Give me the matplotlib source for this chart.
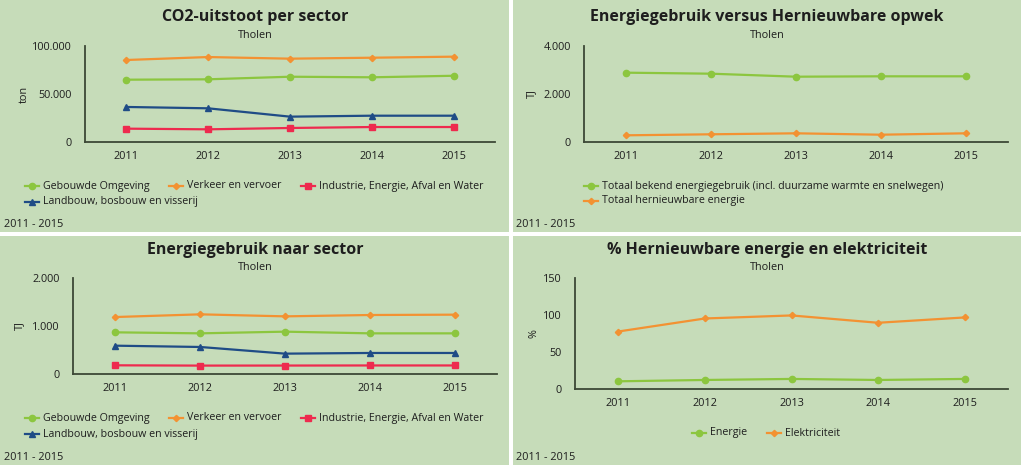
import matplotlib.pyplot as plt
from matplotlib.lines import Line2D
from matplotlib.patches import Rectangle
from matplotlib.ticker import FuncFormatter

plt.rcParams['font.family'] = ['Open Sans', 'DejaVu Sans']

jaren = ['2011', '2012', '2013', '2014', '2015']

# CO2-uitstoot per sector (ton)
co2_gebouwd = [64900, 65300, 68000, 67400, 69000]
co2_verkeer = [85400, 88500, 86800, 87800, 88900]
co2_industrie = [13900, 13200, 14600, 15600, 15600]
co2_landbouw = [36500, 35100, 26400, 27400, 27400]

# Energiegebruik versus hernieuwbare opwek (TJ)
totaal_energie = [2888, 2846, 2721, 2737, 2737]
totaal_hernieuwbaar = [279, 321, 362, 304, 362]

# Energiegebruik naar sector (TJ)
tj_gebouwd = [868, 847, 882, 847, 847]
tj_verkeer = [1187, 1243, 1201, 1229, 1236]
tj_industrie = [181, 175, 176, 178, 178]
tj_landbouw = [590, 563, 424, 438, 438]

# % hernieuwbare energie en elektriciteit
pct_energie = [10.4, 12.2, 13.6, 12.2, 13.6]
pct_elektriciteit = [77.7, 95.3, 99.4, 89.5, 96.7]

GROEN = '#8cc63f'
ORANJE = '#f39232'
ROOD = '#ee2a4e'
BLAUW = '#1f4c86'
ACHTERGROND = '#c6dcb9'
AS = '#3c4836'
TEKST = '#1e1e1e'

stijl = {
    'groen': dict(color=GROEN, marker='o', markersize=4.5),
    'oranje': dict(color=ORANJE, marker='D', markersize=3.2),
    'rood': dict(color=ROOD, marker='s', markersize=5),
    'blauw': dict(color=BLAUW, marker='^', markersize=5),
}

W, H = 1023, 467
fig = plt.figure(figsize=(W / 100, H / 100), dpi=100)
fig.patch.set_facecolor('white')


def fx(x):
    return x / W


def fy(y):
    return 1 - y / H


# achtergrondvlakken
for (x0, y0, x1, y1) in [(0, 0, 509, 232), (513, 0, 1021, 232),
                         (0, 236, 509, 465), (513, 236, 1021, 465)]:
    fig.patches.append(Rectangle((fx(x0), fy(y1)), fx(x1 - x0), (y1 - y0) / H,
                                 transform=fig.transFigure, facecolor=ACHTERGROND,
                                 edgecolor='none', zorder=-5))


def punt(v, pos):
    return f'{int(round(v)):,}'.replace(',', '.')


def maak_as(left, top, right, bottom, ymax, yticks, ylabel, ylabel_x):
    ax = fig.add_axes([fx(left), fy(bottom), fx(right - left), (bottom - top) / H])
    ax.set_facecolor('none')
    ax.set_zorder(2)
    ax.set_xlim(-0.5, 4.5)
    ax.set_ylim(0, ymax)
    ax.set_yticks(yticks)
    ax.yaxis.set_major_formatter(FuncFormatter(punt))
    for s in ['top', 'right']:
        ax.spines[s].set_visible(False)
    for s in ['left', 'bottom']:
        ax.spines[s].set_color(AS)
        ax.spines[s].set_linewidth(1.3)
    ax.tick_params(axis='both', length=0, labelsize=7.8, labelcolor=TEKST)
    ax.tick_params(axis='y', pad=9.5)
    ax.tick_params(axis='x', pad=6.5)
    fig.text(fx(ylabel_x), fy((top + bottom) / 2), ylabel, rotation=90,
             ha='center', va='center', fontsize=7.8, color=TEKST)
    return ax


def titels(cx, ty, sy, titel):
    fig.text(fx(cx), fy(ty), titel, ha='center', va='center', fontsize=11.5,
             fontweight='bold', color=TEKST)
    fig.text(fx(cx), fy(sy), 'Tholen', ha='center', va='center', fontsize=7.8,
             color=TEKST)


def legenda_item(x, y, label, s):
    fig.add_artist(Line2D([fx(x - 7), fx(x + 7)], [fy(y), fy(y)],
                          transform=fig.transFigure, color=s['color'], lw=1.6))
    fig.add_artist(Line2D([fx(x)], [fy(y)], transform=fig.transFigure,
                          color=s['color'], marker=s['marker'],
                          markersize=s['markersize']))
    fig.text(fx(x + 11), fy(y), label, ha='left', va='center', fontsize=7.65,
             color=TEKST)


def teken(ax, reeksen):
    for waarden, s in reeksen:
        ax.plot(jaren, waarden, lw=1.6, **s)


# paneel 1
ax1 = maak_as(85, 46, 495, 142, 100000, [0, 50000, 100000], 'ton', 24)
teken(ax1, [(co2_gebouwd, stijl['groen']), (co2_verkeer, stijl['oranje']),
            (co2_industrie, stijl['rood']), (co2_landbouw, stijl['blauw'])])
titels(255, 17, 35, 'CO2-uitstoot per sector')
legenda_item(32, 186, 'Gebouwde Omgeving', stijl['groen'])
legenda_item(176, 186, 'Verkeer en vervoer', stijl['oranje'])
legenda_item(308, 186, 'Industrie, Energie, Afval en Water', stijl['rood'])
legenda_item(32, 202, 'Landbouw, bosbouw en visserij', stijl['blauw'])
fig.text(fx(4), fy(224), '2011 - 2015', ha='left', va='center', fontsize=7.8, color=TEKST)

# paneel 2
ax2 = maak_as(584, 46, 1008, 142, 4000, [0, 2000, 4000], 'TJ', 532)
teken(ax2, [(totaal_energie, stijl['groen']), (totaal_hernieuwbaar, stijl['oranje'])])
titels(767, 17, 35, 'Energiegebruik versus Hernieuwbare opwek')
legenda_item(591, 186, 'Totaal bekend energiegebruik (incl. duurzame warmte en snelwegen)', stijl['groen'])
legenda_item(591, 201, 'Totaal hernieuwbare energie', stijl['oranje'])
fig.text(fx(516), fy(224), '2011 - 2015', ha='left', va='center', fontsize=7.8, color=TEKST)

# paneel 3
ax3 = maak_as(73, 278, 497, 374, 2000, [0, 1000, 2000], 'TJ', 20)
teken(ax3, [(tj_gebouwd, stijl['groen']), (tj_verkeer, stijl['oranje']),
            (tj_industrie, stijl['rood']), (tj_landbouw, stijl['blauw'])])
titels(255, 250, 268, 'Energiegebruik naar sector')
legenda_item(32, 418, 'Gebouwde Omgeving', stijl['groen'])
legenda_item(176, 418, 'Verkeer en vervoer', stijl['oranje'])
legenda_item(308, 418, 'Industrie, Energie, Afval en Water', stijl['rood'])
legenda_item(32, 434, 'Landbouw, bosbouw en visserij', stijl['blauw'])
fig.text(fx(4), fy(457), '2011 - 2015', ha='left', va='center', fontsize=7.8, color=TEKST)

# paneel 4
ax4 = maak_as(575, 278, 1008, 389, 150, [0, 50, 100, 150], '%', 534)
teken(ax4, [(pct_energie, stijl['groen']), (pct_elektriciteit, stijl['oranje'])])
titels(767, 250, 268, '% Hernieuwbare energie en elektriciteit')
legenda_item(699, 433, 'Energie', stijl['groen'])
legenda_item(774, 433, 'Elektriciteit', stijl['oranje'])
fig.text(fx(516), fy(457), '2011 - 2015', ha='left', va='center', fontsize=7.8, color=TEKST)

fig.savefig('out.png', dpi=100, facecolor=fig.get_facecolor())
